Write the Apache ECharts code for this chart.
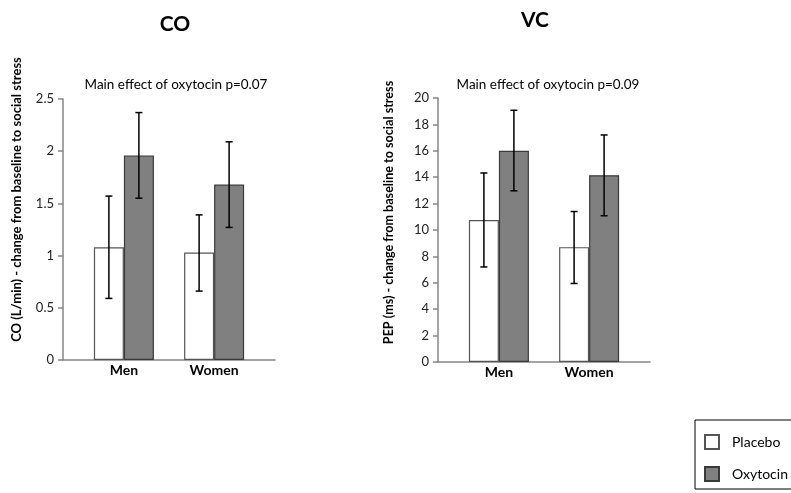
<!DOCTYPE html>
<html>
<head>
<meta charset="utf-8">
<script src="https://cdn.jsdelivr.net/npm/echarts@6/dist/echarts.min.js"></script>
<style>html,body{margin:0;padding:0;background:#fff}#c{width:791px;height:493px}</style>
</head>
<body>
<div id="c"></div>
<script>
// ---- data ----
const categories = ['Men', 'Women'];
const seriesNames = ['Placebo', 'Oxytocin'];
// CO (L/min)
const coPlacebo = [1.08, 1.03];
const coPlaceboLow = [0.59, 0.66];
const coPlaceboHigh = [1.57, 1.39];
const coOxytocin = [1.96, 1.68];
const coOxytocinLow = [1.55, 1.27];
const coOxytocinHigh = [2.37, 2.09];
// VC: PEP (ms)
const vcPlacebo = [10.75, 8.7];
const vcPlaceboLow = [7.2, 5.95];
const vcPlaceboHigh = [14.32, 11.4];
const vcOxytocin = [16.0, 14.15];
const vcOxytocinLow = [12.97, 11.08];
const vcOxytocinHigh = [19.07, 17.2];
const coTicks = [0, 0.5, 1, 1.5, 2, 2.5];
const vcTicks = [0, 2, 4, 6, 8, 10, 12, 14, 16, 18, 20];

const FONT = 'Lato';
const BAR_W = 30;

function barData(vals) { return vals.map((v, i) => [i, v]); }
function errData(low, high, side) { return low.map((l, i) => [i, l, high[i], side]); }

function errRender(params, api) {
  const x = api.value(0), lo = api.value(1), hi = api.value(2), side = api.value(3);
  const pLo = api.coord([x, lo]);
  const pHi = api.coord([x, hi]);
  const cx = pLo[0] + side * BAR_W / 2;
  const cap = 3.5;
  const st = { stroke: '#000', lineWidth: 1.5 };
  return {
    type: 'group',
    children: [
      { type: 'line', shape: { x1: cx, y1: pLo[1], x2: cx, y2: pHi[1] }, style: st },
      { type: 'line', shape: { x1: cx - cap, y1: pLo[1], x2: cx + cap, y2: pLo[1] }, style: st },
      { type: 'line', shape: { x1: cx - cap, y1: pHi[1], x2: cx + cap, y2: pHi[1] }, style: st }
    ]
  };
}

function xAxisCfg(gi) {
  return {
    type: 'value', gridIndex: gi, min: -0.675, max: 1.675,
    splitLine: { show: false },
    axisLine: { show: true, onZero: false, lineStyle: { color: '#868686', width: 1.5 } },
    axisTick: { show: false },
    axisLabel: {
      customValues: [0, 1],
      formatter: v => categories[Math.round(v)],
      fontFamily: FONT, fontWeight: 'bold', fontSize: 14, color: '#000', margin: 3
    }
  };
}
function yAxisCfg(gi, max, interval, name, gap, shift, fs) {
  return {
    type: 'value', gridIndex: gi, min: 0, max: max, interval: interval,
    name: name, nameLocation: 'middle', nameGap: gap,
    nameTextStyle: { fontFamily: FONT, fontWeight: 'bold', fontSize: fs, color: '#000', padding: [0, 0, 0, shift] },
    splitLine: { show: false },
    axisLine: { show: true, onZero: false, lineStyle: { color: '#868686', width: 1.5 } },
    axisTick: { show: true, length: 5, lineStyle: { color: '#868686', width: 1.5 } },
    axisLabel: { fontFamily: FONT, fontSize: 13, color: '#222', margin: 9 }
  };
}

const placeboStyle = { color: '#ffffff', borderColor: '#555555', borderWidth: 1.2 };
const oxyStyle = { color: '#808080', borderColor: '#3a3a3a', borderWidth: 1.2 };

const option = {
  animation: false,
  backgroundColor: '#fff',
  title: [
    { text: 'CO', left: 170, top: 9, textAlign: 'center', textStyle: { fontFamily: FONT, fontSize: 21, fontWeight: 'bold', color: '#000' } },
    { text: 'VC', left: 530, top: 5, textAlign: 'center', textStyle: { fontFamily: FONT, fontSize: 21, fontWeight: 'bold', color: '#000' } },
    { text: 'Main effect of oxytocin p=0.07', left: 171, top: 73, textAlign: 'center', textStyle: { fontFamily: FONT, fontSize: 13.5, fontWeight: 'normal', color: '#000' } },
    { text: 'Main effect of oxytocin p=0.09', left: 543, top: 73, textAlign: 'center', textStyle: { fontFamily: FONT, fontSize: 13.5, fontWeight: 'normal', color: '#000' } }
  ],
  legend: {
    orient: 'vertical', left: 695, top: 420,
    data: seriesNames,
    icon: 'rect', itemWidth: 14, itemHeight: 14, itemGap: 16,
    padding: [14, 40, 7, 9],
    borderColor: '#000', borderWidth: 1,
    textStyle: { fontFamily: FONT, fontSize: 14, color: '#000', padding: [0, 0, 0, 8] }
  },
  grid: [
    { left: 63, width: 212, top: 99, height: 261 },
    { left: 438, width: 212, top: 98, height: 264 }
  ],
  xAxis: [xAxisCfg(0), xAxisCfg(1)],
  yAxis: [
    yAxisCfg(0, 2.5, 0.5, 'CO (L/min) - change from baseline to social stress', 40, 60, 13),
    yAxisCfg(1, 20, 2, 'PEP (ms) - change from baseline to social stress', 43, 35, 12.6)
  ],
  series: [
    { name: 'Placebo', type: 'bar', xAxisIndex: 0, yAxisIndex: 0, data: barData(coPlacebo), barWidth: BAR_W, barGap: '0%', itemStyle: placeboStyle },
    { name: 'Oxytocin', type: 'bar', xAxisIndex: 0, yAxisIndex: 0, data: barData(coOxytocin), barWidth: BAR_W, barGap: '0%', itemStyle: oxyStyle },
    { name: 'Placebo', type: 'bar', xAxisIndex: 1, yAxisIndex: 1, data: barData(vcPlacebo), barWidth: BAR_W, barGap: '0%', itemStyle: placeboStyle },
    { name: 'Oxytocin', type: 'bar', xAxisIndex: 1, yAxisIndex: 1, data: barData(vcOxytocin), barWidth: BAR_W, barGap: '0%', itemStyle: oxyStyle },
    { type: 'custom', xAxisIndex: 0, yAxisIndex: 0, renderItem: errRender, data: errData(coPlaceboLow, coPlaceboHigh, -1).concat(errData(coOxytocinLow, coOxytocinHigh, 1)), z: 10, silent: true },
    { type: 'custom', xAxisIndex: 1, yAxisIndex: 1, renderItem: errRender, data: errData(vcPlaceboLow, vcPlaceboHigh, -1).concat(errData(vcOxytocinLow, vcOxytocinHigh, 1)), z: 10, silent: true }
  ]
};
echarts.init(document.getElementById('c')).setOption(option);
</script>
</body>
</html>
